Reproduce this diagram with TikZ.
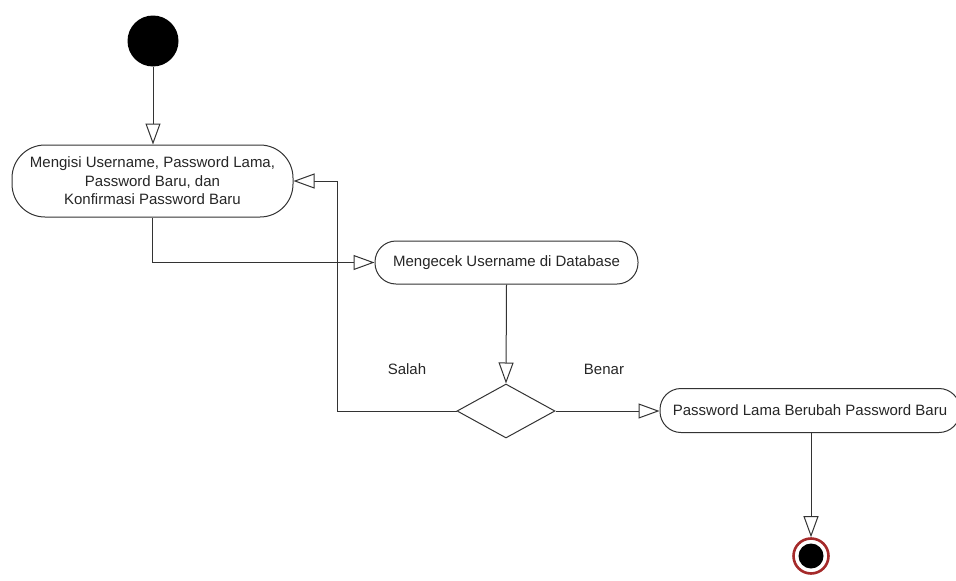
\documentclass[tikz,border=0pt]{standalone}
\usepackage{fontspec}
\setmainfont{Liberation Sans}
\usetikzlibrary{arrows.meta,shapes.geometric}
\definecolor{edge}{HTML}{333333}
\definecolor{endring}{HTML}{A52A2A}
\tikzset{
  x=1pt, y=-1pt,
  every node/.style={font=\fontsize{15}{18.5}\selectfont, text=black!85},
  action/.style={draw=edge, line width=1pt, fill=white, rectangle,
    inner sep=0pt, align=center},
  flow/.style={draw=edge, line width=1pt,
    -{Triangle[open, length=21pt, width=15pt, fill=white]}},
  choice/.style={draw=edge, line width=1pt, diamond, inner sep=0pt,
    minimum width=98pt, minimum height=54pt},
}
\begin{document}
\begin{tikzpicture}
\useasboundingbox (0,0) rectangle (956,581);

% start and end markers
\node[circle, fill=black, minimum size=51pt, inner sep=0pt] (start) at (153,41) {};
\node[circle, draw=endring, line width=2.6pt, fill=white, minimum size=35pt, inner sep=0pt] (end) at (811,556) {};
\node[circle, fill=black, minimum size=25pt, inner sep=0pt] (endcore) at (811,556) {};

% actions
\node[action, rounded corners=33pt, minimum width=281pt, minimum height=72pt] (fill) at (152.5,181)
  {Mengisi Username, Password Lama,\\Password Baru, dan\\Konfirmasi Password Baru};
\node[action, rounded corners=21pt, minimum width=263pt, minimum height=43pt] (check) at (506.5,262.5)
  {Mengecek Username di Database};
\node[action, rounded corners=21pt, minimum width=300pt, minimum height=44pt] (change) at (810,410.5)
  {Password Lama Berubah Password Baru};

% decision
\node[choice] (dec) at (506,411) {};
\coordinate (back) at (337,411);

% guards
\node (salah) at (407,369) {Salah};
\node (benar) at (604,369) {Benar};

% flows
\draw[flow] (start.south) -- (start.south |- fill.north);
\draw[flow] (fill.south) |- (check.west);
\draw[flow] (check.south) -- (dec.north);
\draw[flow] (dec.west) -- (back) |- (fill.east);
\draw[flow] (dec.east) -- (dec.east -| change.west);
\draw[flow] (end.north |- change.south) -- (end.north);
\end{tikzpicture}
\end{document}
